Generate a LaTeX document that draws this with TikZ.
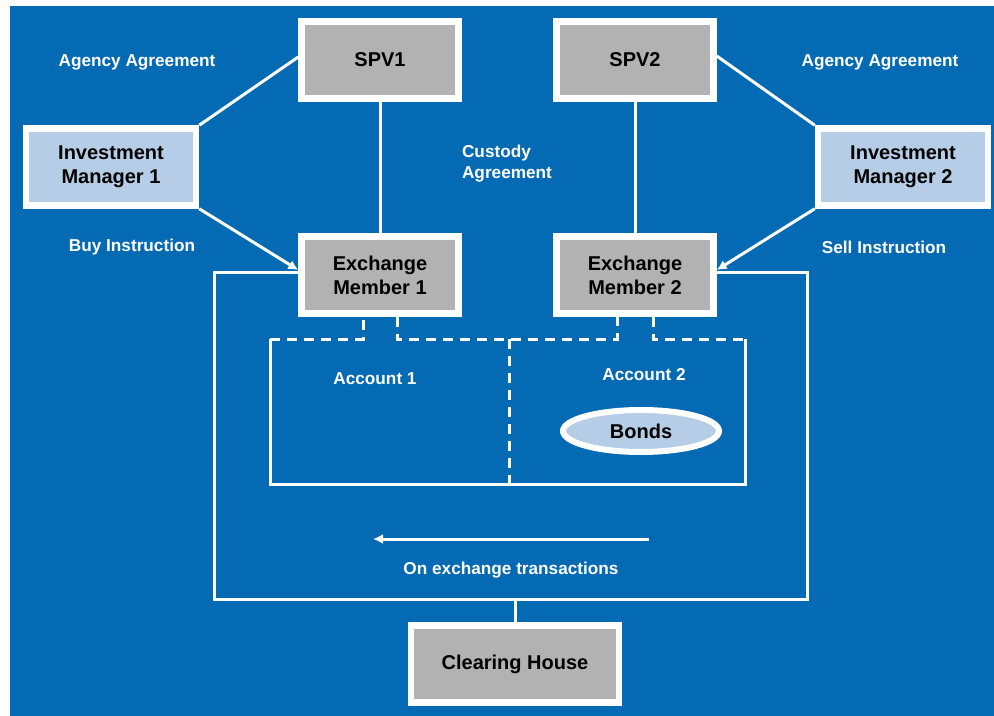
\documentclass[tikz,border=0pt]{standalone}
\usepackage{fontspec}
\setmainfont{Liberation Sans}
\usetikzlibrary{arrows.meta,shapes.geometric}
\definecolor{bgblue}{RGB}{5,106,180}
\definecolor{boxgray}{RGB}{178,178,178}
\definecolor{paleblue}{RGB}{181,205,230}
\begin{document}
\begin{tikzpicture}[x=.5pt,y=-.5pt,
  wire/.style={white,line width=1.5pt},
  dashwire/.style={white,line width=1.5pt,dash pattern=on 5pt off 3.5pt},
  box/.style={draw=white,line width=3.25pt,fill=boxgray,minimum width=78.5pt,minimum height=38.5pt,align=center,font=\fontsize{10}{12}\selectfont\bfseries},
  mgr/.style={box,fill=paleblue,minimum width=85pt},
  lbl/.style={white,font=\fontsize{8.6}{10.5}\selectfont\bfseries,align=center},
  tip/.style={-{Latex[length=5pt,width=5pt]}}]
\fill[white] (0,0) rectangle (994,716);
\fill[bgblue] (10,6) rectangle (994,716);
% boxes
\node[box] (spv1) at (380,60) {SPV1};
\node[box] (spv2) at (635,60) {SPV2};
\node[mgr] (im1) at (111,167) {Investment\\Manager 1};
\node[mgr] (im2) at (903,167) {Investment\\Manager 2};
\node[box] (em1) at (380,275) {Exchange\\Member 1};
\node[box] (em2) at (635,275) {Exchange\\Member 2};
\node[box,minimum width=104pt] (ch) at (515,664) {Clearing House};
\node[ellipse,draw=white,line width=3pt,fill=paleblue,minimum width=78pt,minimum height=21pt,inner sep=0pt,font=\fontsize{10}{12}\selectfont\bfseries] (bonds) at (641,431) {Bonds};
% labels
\node[lbl] (aa1) at (137,62) {Agency Agreement};
\node[lbl] (aa2) at (880,62) {Agency Agreement};
\node[lbl,align=left,anchor=west] (ca) at (455,164) {Custody\\Agreement};
\node[lbl] (bi) at (132,247) {Buy Instruction};
\node[lbl] (si) at (884,247) {Sell Instruction};
\node[lbl] (acc1) at (375,379) {Account 1};
\node[lbl] (acc2) at (644,375) {Account 2};
\node[lbl] (oet) at (511,570) {On exchange transactions};
% agreements and instructions
\draw[wire] (im1.north east) -- ([yshift=1.5pt]spv1.west);
\draw[wire] (im2.north west) -- ([yshift=2pt]spv2.east);
\draw[wire,tip] (im1.south east) -- ([yshift=2.5pt]em1.west);
\draw[wire,tip] (im2.south west) -- ([yshift=2.5pt]em2.east);
\draw[wire] (spv1) -- (em1);
\draw[wire] (spv2) -- (em2);
% exchange frame
\coordinate (fl) at (214,599);
\coordinate (fr) at (807,599);
\draw[wire] ([yshift=1pt]em1.west) -| (fl) -- (fr) |- ([yshift=1pt]em2.east);
\draw[wire] (ch) -- (ch |- fl);
\coordinate (oetR) at (649,539);
\coordinate (oetL) at (373,539);
\draw[wire,tip] (oetR) -- (oetL);
% accounts
\coordinate (al) at (270,339);
\coordinate (ar) at (745,339);
\coordinate (am) at (509,339);
\coordinate (t1) at (363,339);
\coordinate (t2) at (397,339);
\coordinate (t3) at (617,339);
\coordinate (t4) at (653,339);
\draw[wire] (al) |- (745,484) -- (ar);
\draw[dashwire] (am) -- (509,484);
\draw[dashwire] (al) -- (t1) -- (t1 |- em1.south);
\draw[dashwire] (t2 |- em1.south) -- (t2) -- (t3) -- (t3 |- em2.south);
\draw[dashwire] (t4 |- em2.south) -- (t4) -- (ar);
\end{tikzpicture}
\end{document}
